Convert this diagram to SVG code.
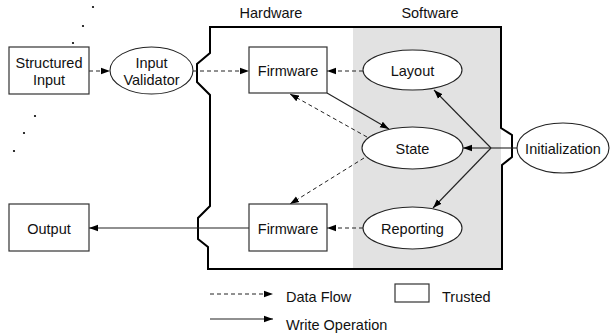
<svg xmlns="http://www.w3.org/2000/svg" width="615" height="336" viewBox="0 0 615 336">
<defs>
<marker id="ah" markerUnits="userSpaceOnUse" markerWidth="10" markerHeight="8" refX="9" refY="4" orient="auto">
<path d="M0,0.8 L9,4 L0,7.2 z" fill="#000"/>
</marker>
<style>
text{font-family:"Liberation Sans",Arial,sans-serif;font-size:14.5px;fill:#111;text-anchor:middle}
.box{fill:#fff;stroke:#333;stroke-width:1.2}
.el{fill:#fff;stroke:#222;stroke-width:1.1}
.d{fill:none;stroke:#222;stroke-width:1;stroke-dasharray:4,3}
.s{fill:none;stroke:#222;stroke-width:1.1}
.dot{fill:#000}
</style>
</defs>
<rect width="615" height="336" fill="#fff"/>
<g id="boundary">
<rect x="353" y="28" width="148" height="241" fill="#e2e2e2"/>
<path d="M210,27 L501,27 L501,128 L512,135 L512,157 L502,165 L502,269 L208,269 L208,247 L198,239 L198,218 L210,206 L210,95 L197,82 L197,64 L210,53 Z" fill="none" stroke="#000" stroke-width="2"/>
<text x="271" y="18">Hardware</text>
<text x="430" y="18">Software</text>
</g>
<g id="dots">
<circle class="dot" cx="93" cy="7" r="1.1"/>
<circle class="dot" cx="83" cy="26" r="1.1"/>
<circle class="dot" cx="73" cy="43" r="1.1"/>
<circle class="dot" cx="35" cy="116" r="1.1"/>
<circle class="dot" cx="24" cy="133" r="1.1"/>
<circle class="dot" cx="14" cy="151" r="1.1"/>
</g>
<g id="connectors">
<line class="d" x1="89" y1="71" x2="110" y2="71" marker-end="url(#ah)"/>
<line class="d" x1="193" y1="71" x2="249" y2="71" marker-end="url(#ah)"/>
<line class="d" x1="363" y1="71" x2="327" y2="71" marker-end="url(#ah)"/>
<line class="s" x1="327" y1="93" x2="389" y2="129" marker-end="url(#ah)"/>
<line class="d" x1="367" y1="137" x2="290" y2="94" marker-end="url(#ah)"/>
<line class="d" x1="364" y1="158" x2="290" y2="204" marker-end="url(#ah)"/>
<line class="d" x1="363" y1="228" x2="327" y2="228" marker-end="url(#ah)"/>
<line class="s" x1="249" y1="228" x2="89" y2="228" stroke="#555" marker-end="url(#ah)"/>
<line class="s" x1="517" y1="148" x2="491" y2="148"/>
<line class="s" x1="491" y1="148" x2="434" y2="90" marker-end="url(#ah)"/>
<line class="s" x1="491" y1="148" x2="463" y2="148" marker-end="url(#ah)"/>
<line class="s" x1="491" y1="148" x2="433" y2="208" marker-end="url(#ah)"/>
</g>
<g id="structured-input">
<rect class="box" x="9" y="47" width="80" height="47"/>
<text x="49" y="68">Structured</text>
<text x="49" y="85">Input</text>
</g>
<g id="input-validator">
<ellipse class="el" cx="151.5" cy="70.5" rx="41.5" ry="23.5"/>
<text x="151.5" y="68">Input</text>
<text x="151.5" y="85">Validator</text>
</g>
<g id="firmware-top">
<rect class="box" x="249" y="47" width="78" height="46"/>
<text x="288" y="76">Firmware</text>
</g>
<g id="layout">
<ellipse class="el" cx="412.5" cy="70" rx="49.5" ry="20"/>
<text x="412.5" y="76">Layout</text>
</g>
<g id="state">
<ellipse class="el" cx="412.5" cy="148" rx="50.5" ry="21"/>
<text x="412.5" y="154">State</text>
</g>
<g id="initialization">
<ellipse class="el" cx="563" cy="148" rx="46" ry="25"/>
<text x="563" y="154">Initialization</text>
</g>
<g id="reporting">
<ellipse class="el" cx="412.5" cy="228" rx="49.5" ry="21"/>
<text x="412.5" y="234">Reporting</text>
</g>
<g id="firmware-bottom">
<rect class="box" x="249" y="204" width="78" height="47"/>
<text x="288" y="234">Firmware</text>
</g>
<g id="output">
<rect class="box" x="9" y="204" width="80" height="47"/>
<text x="49" y="234">Output</text>
</g>
<g id="legend">
<line class="d" x1="210" y1="294" x2="273" y2="294" marker-end="url(#ah)"/>
<text x="286" y="302" style="text-anchor:start">Data Flow</text>
<line class="s" x1="210" y1="319" x2="273" y2="319" marker-end="url(#ah)"/>
<text x="286" y="330" style="text-anchor:start">Write Operation</text>
<rect class="box" x="395" y="284" width="34" height="18"/>
<text x="442" y="302" style="text-anchor:start">Trusted</text>
</g>
</svg>
